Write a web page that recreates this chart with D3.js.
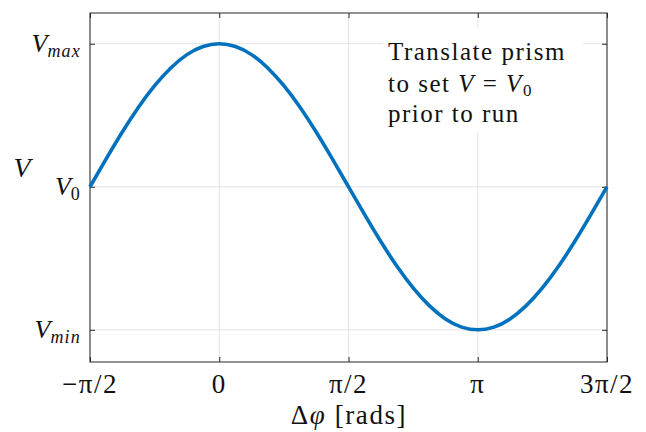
<!DOCTYPE html>
<html>
<head>
<meta charset="utf-8">
<script src="https://cdn.jsdelivr.net/npm/d3@7"></script>
<style>
  html, body { margin: 0; padding: 0; background: #fff; }
  svg { display: block; }
</style>
</head>
<body>
<svg id="chart" width="646" height="432"></svg>
<script>
// Phase offset samples (in units of pi/16) and the normalised signal at each one
const phaseSteps = [-8,-7,-6,-5,-4,-3,-2,-1,0,1,2,3,4,5,6,7,8,9,10,11,12,13,14,15,16,17,18,19,20,21,22,23,24];
const signal = [0,0.195,0.383,0.556,0.707,0.831,0.924,0.981,1,0.981,0.924,0.831,0.707,0.556,0.383,0.195,0,
                -0.195,-0.383,-0.556,-0.707,-0.831,-0.924,-0.981,-1,-0.981,-0.924,-0.831,-0.707,-0.556,-0.383,-0.195,0];

// Tick positions and labels
const xTicks = [-Math.PI/2, 0, Math.PI/2, Math.PI, 3*Math.PI/2];
const xTickLabels = ["\u2212\u03C0/2", "0", "\u03C0/2", "\u03C0", "3\u03C0/2"];
const yTicks = [-1, 0, 1];
const yTickLabels = [["V","min"], ["V","0"], ["V","max"]];
const noteLines = ["Translate prism", "to set ", "prior to run"];

const FONT = "'Liberation Serif', 'DejaVu Serif', serif";
const svg = d3.select("#chart");
const L = 90, R = 607, T = 13, B = 362;
const ink = "#111";

const x = d3.scaleLinear().domain([-Math.PI/2, 3*Math.PI/2]).range([L, R]);
const y = d3.scaleLinear().domain([-1.225, 1.215]).range([B, T]);

// grid
const grid = svg.append("g");
grid.selectAll("line.gx").data(xTicks).join("line")
  .attr("x1", d => x(d)).attr("x2", d => x(d)).attr("y1", T).attr("y2", B)
  .attr("stroke", "#e3e3e3").attr("stroke-width", 1);
grid.selectAll("line.gy").data(yTicks).join("line")
  .attr("y1", d => y(d)).attr("y2", d => y(d)).attr("x1", L).attr("x2", R)
  .attr("stroke", "#e3e3e3").attr("stroke-width", 1);

// axes (inward ticks on all four sides)
const axStyle = g => {
  g.select(".domain").remove();
  g.selectAll(".tick line").attr("stroke", "#262626").attr("stroke-width", 1);
  g.selectAll(".tick text").remove();
};
svg.append("g").attr("transform", `translate(0,${B})`)
  .call(d3.axisBottom(x).tickValues(xTicks).tickSize(-5)).call(axStyle);
svg.append("g").attr("transform", `translate(0,${T})`)
  .call(d3.axisTop(x).tickValues(xTicks).tickSize(-5)).call(axStyle);
svg.append("g").attr("transform", `translate(${L},0)`)
  .call(d3.axisLeft(y).tickValues(yTicks).tickSize(-5)).call(axStyle);
svg.append("g").attr("transform", `translate(${R},0)`)
  .call(d3.axisRight(y).tickValues(yTicks).tickSize(-5)).call(axStyle);

// frame
svg.append("rect").attr("x", L).attr("y", T).attr("width", R - L).attr("height", B - T)
  .attr("fill", "none").attr("stroke", "#262626").attr("stroke-width", 1);

// curve
const line = d3.line()
  .x((d, i) => x(phaseSteps[i] * Math.PI / 16))
  .y(d => y(d))
  .curve(d3.curveNatural);
svg.append("path").datum(signal)
  .attr("d", line)
  .attr("fill", "none").attr("stroke", "#0072BD").attr("stroke-width", 3.6)
  .attr("stroke-linejoin", "round");

// labels layer, serif throughout
const labels = svg.append("g").style("font-family", FONT).attr("fill", ink);

// x tick labels
labels.append("g").selectAll("text").data(xTicks).join("text")
  .style("font-family", FONT)
  .attr("x", d => x(d)).attr("y", 393)
  .attr("text-anchor", "middle").attr("font-size", 27)
  .attr("letter-spacing", 1.5)
  .text((d, i) => xTickLabels[i]);

// y tick labels
const yl = labels.append("g").selectAll("text").data(yTicks).join("text")
  .style("font-family", FONT)
  .attr("x", 81).attr("y", d => y(d) + 8)
  .attr("text-anchor", "end").attr("font-size", 26);
yl.append("tspan").attr("font-style", "italic").text((d, i) => yTickLabels[i][0]);
yl.append("tspan").attr("font-size", 18)
  .attr("font-style", (d, i) => yTickLabels[i][1] === "0" ? "normal" : "italic")
  .attr("letter-spacing", 1.2)
  .attr("dy", 5).text((d, i) => yTickLabels[i][1]);

// axis titles
labels.append("text").style("font-family", FONT).attr("x", 22).attr("y", 177).attr("text-anchor", "middle")
  .attr("font-size", 28).attr("font-style", "italic").text("V");
const xt = labels.append("text").style("font-family", FONT).attr("x", 349).attr("y", 424)
  .attr("text-anchor", "middle").attr("font-size", 27).attr("letter-spacing", 1.6);
xt.append("tspan").text("\u0394");
xt.append("tspan").attr("font-style", "italic").text("\u03C6");
xt.append("tspan").text(" [rads]");

// annotation box
labels.append("rect").attr("x", 383).attr("y", 28).attr("width", 200).attr("height", 104).attr("fill", "#fff");
const note = labels.append("g");
const noteText = () => note.append("text").style("font-family", FONT).attr("font-size", 25)
  .attr("letter-spacing", 1.5).attr("x", 388);
noteText().attr("y", 60).text(noteLines[0]);
const n2 = noteText().attr("y", 92);
n2.append("tspan").text(noteLines[1]);
n2.append("tspan").attr("font-style", "italic").text("V");
n2.append("tspan").text(" = ");
n2.append("tspan").attr("font-style", "italic").text("V");
n2.append("tspan").attr("font-size", 17).attr("dy", 4).text("0");
noteText().attr("y", 122).text(noteLines[2]);
</script>
</body>
</html>
